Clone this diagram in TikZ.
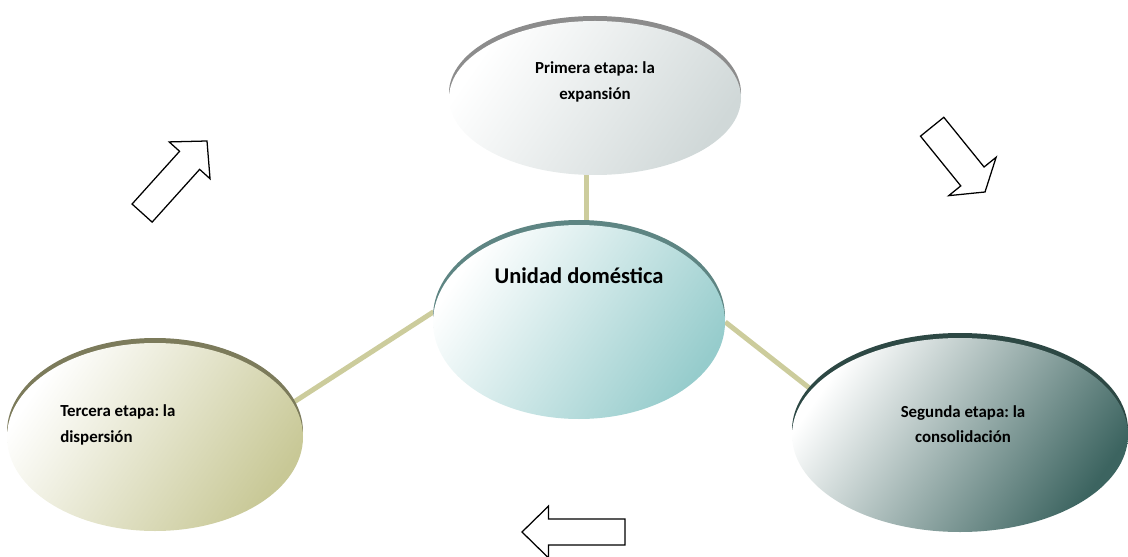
\documentclass[tikz,border=0pt]{standalone}
\usepackage{fontspec}
\setmainfont{Carlito}
\usetikzlibrary{shapes.geometric,shadows,backgrounds,positioning}
\frenchspacing

\newcommand{\pxu}{0.025cm}
\definecolor{linkcol}{RGB}{204,204,156}
\definecolor{primcol}{RGB}{208,216,216}
\definecolor{primrim}{RGB}{140,140,140}
\definecolor{unicol}{RGB}{150,204,204}
\definecolor{unirim}{RGB}{94,133,131}
\definecolor{tercol}{RGB}{200,200,150}
\definecolor{terrim}{RGB}{124,123,91}
\definecolor{segcol}{RGB}{60,100,96}
\definecolor{segrim}{RGB}{45,72,68}

% block arrow: tip, angle, length, shaft half width, head half width, head length
\newcommand{\flechabloque}[6]{%
  \draw[flecha, shift={(#1)}, rotate=#2]
    (0,0) -- (-#6,#5) -- (-#6,#4) -- (-#3,#4) -- (-#3,-#4) -- (-#6,-#4) -- (-#6,-#5) -- cycle;}

\tikzset{
  etapa/.style 2 args={ellipse, inner sep=0pt, top color=white, bottom color=#1,
    shading angle=55,
    drop shadow={shadow xshift=0pt, shadow yshift=5*\pxu, fill=#2, opacity=1}},
  etiqueta/.style={font=\fontsize{12}{18}\selectfont\bfseries, inner sep=0pt},
  enlace/.style={draw=linkcol, line width=5*\pxu},
  flecha/.style={draw=black, line width=0.9pt, fill=white, line join=miter}
}

\begin{document}
\begin{tikzpicture}[x=\pxu, y=-\pxu]
      \useasboundingbox (0,0) rectangle (1128,557);
      % Define nodes
      \node[etapa={unicol}{unirim}, minimum width=292*\pxu, minimum height=194*\pxu]
        (unidad) at (579,322) {};
      \node[etapa={primcol}{primrim}, minimum width=292*\pxu, minimum height=154*\pxu]
        (primera) at (595,98) {};
      \node[etapa={segcol}{segrim}, minimum width=336*\pxu, minimum height=194*\pxu]
        (segunda) at (960,435) {};
      \node[etapa={tercol}{terrim}, minimum width=296*\pxu, minimum height=188*\pxu]
        (tercera) at (155,437) {};
      % Labels
      \node[etiqueta, font=\fontsize{16}{19}\selectfont\bfseries]
        (unidad-txt) at ([yshift=46*\pxu]unidad.center) {Unidad doméstica};
      \node[etiqueta, align=center] (primera-txt) at ([yshift=16*\pxu]primera.center)
        {Primera etapa: la\\expansión};
      \node[etiqueta, align=center] (segunda-txt) at ([xshift=3*\pxu, yshift=11*\pxu]segunda.center)
        {Segunda etapa: la\\consolidación};
      \node[etiqueta, align=left, anchor=west] (tercera-txt) at ([yshift=12*\pxu]tercera.center -| 60,0)
        {Tercera etapa: la\\dispersión};
      % Cycle arrows
      \flechabloque{207,141}{48}{97}{13.5}{27.5}{26}
      \flechabloque{985,192}{-51}{84}{15}{30.5}{20}
      \flechabloque{522,532}{180}{103}{13}{26}{26.6}
      % Connect nodes
      \begin{scope}[on background layer]
        \draw[enlace] ([xshift=7*\pxu]unidad.center) -- ([xshift=7*\pxu]unidad.center |- primera.center);
        \draw[enlace] (tercera.14) -- (unidad.176);
        \draw[enlace] (unidad.east) -- (segunda.163);
      \end{scope}
    \end{tikzpicture}
\end{document}
